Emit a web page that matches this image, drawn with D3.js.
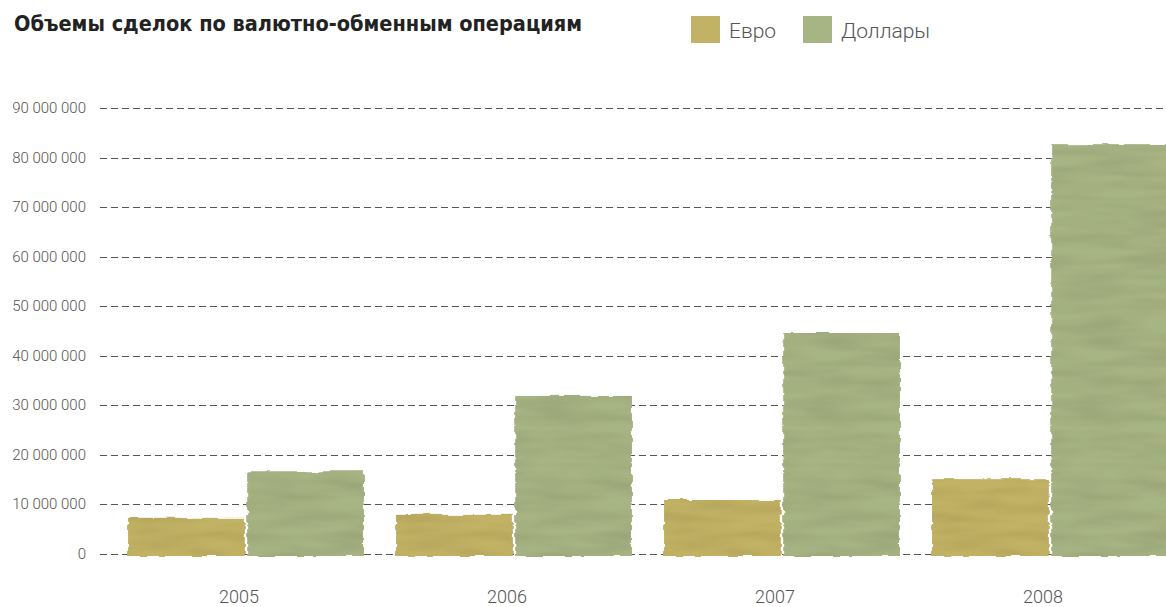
<!DOCTYPE html>
<html>
<head>
<meta charset="utf-8">
<script src="https://cdn.jsdelivr.net/npm/d3@7"></script>
<style>
  body { margin: 0; background: #fff; }
  svg { display: block; }
</style>
</head>
<body>
<div id="chart"></div>
<script>
// Объемы сделок по валютно-обменным операциям
const years = ['2005', '2006', '2007', '2008'];
const seriesNames = ['Евро', 'Доллары'];
const euroValues = [7300000, 7900000, 10900000, 15100000];
const dollarValues = [16700000, 31900000, 44600000, 82700000];
const yTicks = [0, 10000000, 20000000, 30000000, 40000000, 50000000, 60000000, 70000000, 80000000, 90000000];

const COLORS = { euro: '#c2b265', dollar: '#a7b483', grid: '#555', text: '#555' };

const width = 1166, height = 607;

const svg = d3.select('#chart').append('svg')
    .attr('width', width)
    .attr('height', height);

// painterly texture for the bars
const defs = svg.append('defs');
const f = defs.append('filter')
    .attr('id', 'paint')
    .attr('x', '-5%').attr('y', '-5%')
    .attr('width', '110%').attr('height', '110%');
f.append('feTurbulence')
    .attr('type', 'fractalNoise')
    .attr('baseFrequency', '0.04 0.12')
    .attr('numOctaves', 3)
    .attr('seed', 4)
    .attr('result', 'noise');
f.append('feDisplacementMap')
    .attr('in', 'SourceGraphic').attr('in2', 'noise')
    .attr('scale', 5)
    .attr('xChannelSelector', 'R').attr('yChannelSelector', 'G')
    .attr('result', 'rough');
f.append('feTurbulence')
    .attr('type', 'fractalNoise')
    .attr('baseFrequency', '0.015 0.09')
    .attr('numOctaves', 2)
    .attr('seed', 11)
    .attr('result', 'grain');
f.append('feColorMatrix')
    .attr('in', 'grain')
    .attr('type', 'matrix')
    .attr('values', '0 0 0 0 0  0 0 0 0 0  0 0 0 0 0  0 0 0 0.3 -0.1')
    .attr('result', 'shade');
f.append('feComposite')
    .attr('in', 'shade').attr('in2', 'rough')
    .attr('operator', 'in')
    .attr('result', 'shadeIn');
const merge = f.append('feMerge');
merge.append('feMergeNode').attr('in', 'rough');
merge.append('feMergeNode').attr('in', 'shadeIn');

// Title
svg.append('text')
    .attr('x', 14).attr('y', 31)
    .attr('font-family', '"DejaVu Sans Condensed", "DejaVu Sans", sans-serif')
    .attr('font-weight', 'bold')
    .attr('font-size', 21.5)
    .attr('fill', '#222')
    .text('Объемы сделок по валютно-обменным операциям');

// Legend
const legendX = [691, 803];
const legendColors = [COLORS.euro, COLORS.dollar];
seriesNames.forEach((name, i) => {
    svg.append('rect')
        .attr('x', legendX[i]).attr('y', 16)
        .attr('width', 29).attr('height', 27)
        .attr('fill', legendColors[i]);
    svg.append('text')
        .attr('x', legendX[i] + 38).attr('y', 38)
        .attr('font-family', 'Roboto, sans-serif')
        .attr('font-weight', 300)
        .attr('font-size', 21)
        .attr('fill', COLORS.text)
        .text(name);
});

// Scales
const y = d3.scaleLinear().domain([0, 90000000]).range([554, 108]);
const x = d3.scaleBand().domain(years).range([112, 1184]).paddingInner(0.12).paddingOuter(0.06);
const xs = d3.scaleBand().domain(seriesNames).range([0, x.bandwidth()]).paddingInner(0.02);

// Grid + y labels
const fmt = d => d3.format(',')(d).replace(/,/g, ' ');
const gy = svg.append('g');
gy.selectAll('line')
    .data(yTicks)
    .join('line')
    .attr('x1', 100).attr('x2', width)
    .attr('y1', d => Math.round(y(d)) + 0.5).attr('y2', d => Math.round(y(d)) + 0.5)
    .attr('stroke', COLORS.grid)
    .attr('stroke-width', 1)
    .attr('stroke-dasharray', '7,4');
gy.selectAll('text')
    .data(yTicks)
    .join('text')
    .attr('x', 86)
    .attr('y', d => y(d) + 5)
    .attr('text-anchor', 'end')
    .attr('font-family', 'Roboto, sans-serif')
    .attr('font-weight', 300)
    .attr('font-size', 15)
    .attr('fill', COLORS.text)
    .text(d => fmt(d));

// Bars
const rows = years.map((yr, i) => ({ year: yr, values: [euroValues[i], dollarValues[i]] }));
const groups = svg.append('g').selectAll('g')
    .data(rows)
    .join('g')
    .attr('transform', d => `translate(${x(d.year)},0)`);

groups.selectAll('rect')
    .data(d => d.values.map((v, i) => ({ key: seriesNames[i], v, i })))
    .join('rect')
    .attr('x', d => xs(d.key))
    .attr('width', xs.bandwidth())
    .attr('y', d => y(d.v))
    .attr('height', d => y(0) - y(d.v) + 2)
    .attr('fill', d => legendColors[d.i])
    .attr('filter', 'url(#paint)');

// X labels
svg.append('g').selectAll('text')
    .data(years)
    .join('text')
    .attr('x', d => x(d) + x.bandwidth() / 2 - 7)
    .attr('y', 603)
    .attr('text-anchor', 'middle')
    .attr('font-family', 'Roboto, sans-serif')
    .attr('font-weight', 300)
    .attr('font-size', 18)
    .attr('fill', COLORS.text)
    .text(d => d);
</script>
</body>
</html>
